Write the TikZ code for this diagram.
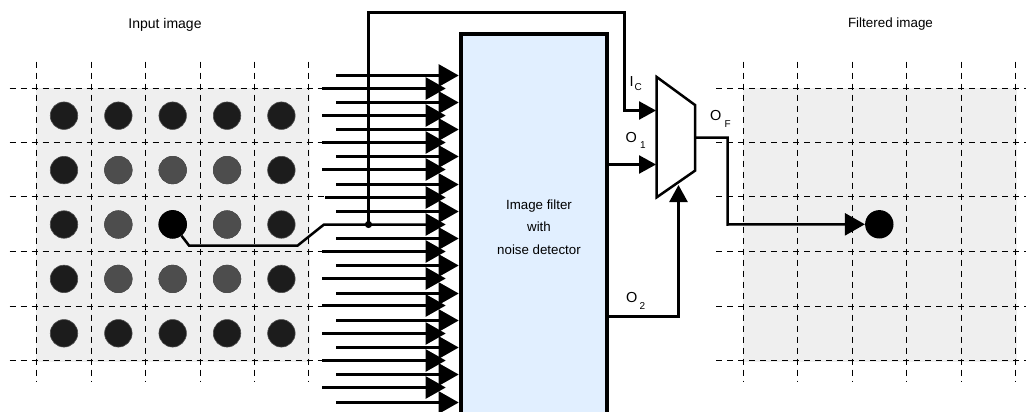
\documentclass[tikz,border=0pt]{standalone}
\usepackage{fontspec}
\setmainfont{Liberation Sans}
\usetikzlibrary{arrows.meta,calc}
\definecolor{cellgray}{HTML}{EFEFEF}
\definecolor{blockblue}{HTML}{E1EFFF}
\definecolor{darkdot}{HTML}{1C1C1C}
\definecolor{middot}{HTML}{4D4D4D}
\tikzset{
  gridline/.style={line width=1.25pt,dash pattern=on 6pt off 5pt,black},
  wire/.style={line width=2.5pt,black,line join=miter},
  bigarrow/.style={wire,-{Triangle[length=20pt,width=22pt]}},
  smallarrow/.style={wire,-{Triangle[length=17pt,width=18pt]}},
  pix/.style={circle,inner sep=0pt,minimum size=27.5pt,fill=#1,draw=middot,line width=.6pt},
  solidpix/.style={circle,inner sep=0pt,minimum size=28.4pt,fill=black},
  title/.style={font=\fontsize{13.4}{15}\selectfont,inner sep=0pt},
  sig/.style={font=\fontsize{14.5}{16}\selectfont,inner sep=0pt,anchor=base west},
  sub/.style={font=\fontsize{10}{11}\selectfont,inner sep=0pt,anchor=base west},
}
\begin{document}
\begin{tikzpicture}[x=1pt,y=-1pt]
\useasboundingbox (0,0) rectangle (1026,412);
\clip (0,0) rectangle (1026,412);
% grey cells
\fill[cellgray] (36,88) rectangle (310,362);
\fill[cellgray] (743,88) rectangle (1017,362);
% grids
\foreach \x in {36.5,91.5,145.5,200.5,254.5,308.5,743.5,797.5,852.5,906.5,961.5,1015.5}{
  \draw[gridline] (\x,61.7) -- (\x,382);
}
\foreach \y in {88.5,142.5,196.5,251.5,306.5,360.5}{
  \draw[gridline] (9.5,\y) -- (336,\y);
  \draw[gridline] (716,\y) -- (1026,\y);
}
% pixels
\foreach \c in {0,...,4}{\foreach \r in {0,...,4}{
  \node[pix=darkdot] (p\c\r) at ({64+54.35*\c},{115.7+54.4*\r}) {};
}}
\foreach \c in {1,2,3}{\foreach \r in {1,2,3}{
  \node[pix=middot] (m\c\r) at ({64+54.35*\c},{115.7+54.4*\r}) {};
}}
\node[solidpix] (center) at (172.7,224.3) {};
\node[solidpix] (out) at (879.3,224.3) {};
% block
\node[draw=black,fill=blockblue,line width=4pt,outer sep=0pt,inner sep=0pt,anchor=north west,minimum width=146pt,minimum height=400pt] (block) at (461,34) {};
\node[font=\fontsize{13.3}{15}\selectfont,inner sep=0pt,align=center] (blocktext) at (539,227) {Image filter\\[7.6pt]with\\[7.6pt]noise detector};
% input arrows
\foreach \i in {0,...,13}{
  \pgfmathsetmacro{\yy}{floor(75+27.25*\i)+0.5}
  \coordinate (ls\i) at (336,\yy);
  \coordinate (le\i) at (458.7,\yy);
  \draw[bigarrow] (ls\i) -- (le\i);
}
\foreach \i in {0,...,11}{
  \ifnum\i=5\relax\else
  \pgfmathsetmacro{\sx}{\i==4 ? 325 : 322}
  \pgfmathsetmacro{\yy}{floor(88.4+27.2*\i)+0.5}
  \coordinate (ss\i) at (\sx,\yy);
  \coordinate (se\i) at (445.7,\yy);
  \draw[bigarrow] (ss\i) -- (se\i);
  \fi
}
% centre pixel path
\coordinate (c1) at (189,245.5);
\coordinate (c2) at (297.7,245.5);
\coordinate (c3) at (324,224.5);
\coordinate (ce) at (445.7,224.5);
\draw[bigarrow] (center) -- (c1) -- (c2) -- (c3) -- (ce);
% multiplexer
\coordinate (m1) at (656.7,77);
\coordinate (m2) at (695,105);
\coordinate (m3) at (695,170.7);
\coordinate (m4) at (656.7,197.3);
\draw[wire,fill=white] (m1) -- (m2) -- (m3) -- (m4) -- cycle;
% feed to mux
\coordinate (f0) at (368.5,224.5);
\coordinate (f1) at (368.5,12.5);
\coordinate (f2) at (624.5,12.5);
\coordinate (f3) at (624.5,110.5);
\coordinate (f4) at (656,110.5);
\draw[smallarrow] (f0) -- (f1) -- (f2) -- (f3) -- (f4);
\fill[black] (f0) circle (3.6pt);
\coordinate (o1a) at (607,164.5);
\coordinate (o1b) at (656,164.5);
\draw[smallarrow] (o1a) -- (o1b);
\coordinate (o2a) at (607,316.5);
\coordinate (o2b) at (678.5,316.5);
\coordinate (o2c) at (678.5,185);
\draw[smallarrow] (o2a) -- (o2b) -- (o2c);
\coordinate (fa) at (695,137.5);
\coordinate (fb) at (727.5,137.5);
\coordinate (fc) at (727.5,224.5);
\draw[bigarrow] (fa) -- (fb) -- (fc) -- (out.west);
% labels
\node[title,font=\fontsize{14}{15}\selectfont] (t1) at (165,24.5) {Input image};
\node[title] (t2) at (890.5,24.5) {Filtered image};
\node[sig] (ic) at (629.5,86) {I};
\node[sub] (icc) at (634.3,90.7) {C};
\node[sig] (o1) at (625.5,142.7) {O};
\node[sub] (o1s) at (640,148) {1};
\node[sig] (o2) at (626,302.7) {O};
\node[sub] (o2s) at (639.5,309) {2};
\node[sig] (of) at (710,121) {O};
\node[sub] (ofs) at (724.5,127) {F};
\end{tikzpicture}
\end{document}
